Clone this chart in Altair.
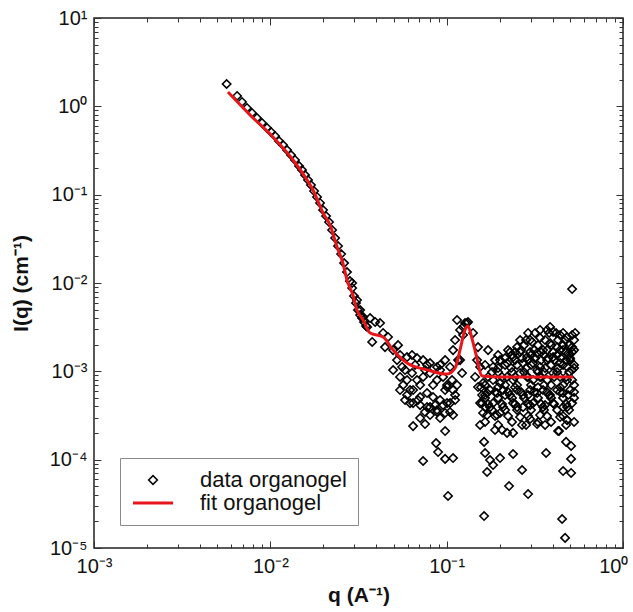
import altair as alt
import pandas as pd

# ---- fit curve ----
fit_q = [0.00575, 0.00767, 0.01035, 0.01346, 0.01614, 0.01746, 0.0199, 0.0218, 0.0239, 0.0258,
         0.0272, 0.0294, 0.0310, 0.0336, 0.0368, 0.0436, 0.0497, 0.0596, 0.0774, 0.1005,
         0.1117, 0.119, 0.127, 0.132, 0.139, 0.147, 0.159, 0.201, 0.521]
fit_I = [1.45, 0.80, 0.45, 0.247, 0.147, 0.113, 0.062, 0.0454, 0.0255, 0.0168,
         0.0108, 0.00731, 0.00494, 0.00381, 0.00272, 0.00245, 0.00174, 0.00124, 0.00104, 0.00093,
         0.00109, 0.00174, 0.00294, 0.00326, 0.00238, 0.00153, 0.000885, 0.000863, 0.000863]

data_q = [
    0.00565, 0.00648, 0.00691, 0.00737, 0.00787, 0.0084, 0.00897, 0.00958, 0.01009, 0.01063,
    0.0112, 0.0118, 0.01244, 0.0131, 0.0138, 0.01455, 0.01513, 0.01574, 0.01636, 0.0170,
    0.0177, 0.0184, 0.01914, 0.0199, 0.0207, 0.02153, 0.0224, 0.0233, 0.0242, 0.0252,
    0.0262, 0.0272, 0.0283, 0.0291, 0.0298, 0.0306, 0.0314, 0.0323, 0.0331, 0.034, 0.0349,
    # mid region
    0.0291, 0.0310, 0.0323, 0.0336, 0.0368, 0.0393, 0.0419, 0.0354, 0.0378, 0.0436,
    0.0465, 0.0447, 0.0497, 0.0523, 0.0559, 0.0596, 0.0679, 0.0735, 0.0805, 0.0882,
    0.098, 0.1045, 0.0497, 0.0544, 0.0596, 0.0636, 0.0679, 0.0735, 0.0805, 0.0882,
    0.0954, 0.1005, 0.1073, 0.1087, 0.0544, 0.0596, 0.0645, 0.0707, 0.0774, 0.0837,
    0.0918, 0.0805, 0.0882, 0.1005, 0.1045, 0.0754, 0.062, 0.1145, 0.1191, 0.1116,
    0.1087, 0.116, 0.1239, 0.1305, 0.0645, 0.0754, 0.098, 0.0871, 0.0894, 0.0735,
    0.098, 0.1087, 0.1018, 0.0581, 0.0645, 0.0774, 0.0805, 0.0882, 0.098, 0.1087,
    0.0954, 0.1045,
    0.0544, 0.0636, 0.0662, 0.0774, 0.0918, 0.0566, 0.0707, 0.0837, 0.1005, 0.1145,
    0.0688, 0.1116, 0.0918, 0.0707,
    0.053, 0.0581, 0.0754, 0.0918, 0.062, 0.098, 0.0707, 0.086, 0.1116,
    # peak and after
    0.1271, 0.1322, 0.1239, 0.1411, 0.1506, 0.1487, 0.1547, 0.1449, 0.1506, 0.1609,
    0.1588, 0.1695, 0.1547, 0.1651, 0.1191, 0.1223,
    # high-q cloud
    0.1833, 0.2008, 0.22, 0.238, 0.2608, 0.2858, 0.305, 0.3386, 0.371, 0.4013,
    0.4397, 0.4818, 0.5145, 0.5145, 0.5012, 0.4573, 0.4229, 0.3859, 0.352, 0.3257,
    0.309, 0.3386, 0.371, 0.4013, 0.4397, 0.4818, 0.5145, 0.1833, 0.2008, 0.22,
    0.238, 0.2608, 0.2858, 0.309, 0.3386, 0.371, 0.4013, 0.4397, 0.4818, 0.5145,
    0.1762, 0.1931, 0.2088, 0.2288, 0.2507, 0.2712, 0.2972, 0.3257, 0.352, 0.3859,
    0.4229, 0.4573, 0.5012, 0.1833, 0.2088, 0.238, 0.2712, 0.309, 0.352, 0.4013,
    0.4573, 0.5145, 0.2008, 0.2608, 0.3386, 0.4397, 0.2288, 0.2507, 0.2712, 0.3257,
    0.3386, 0.3859, 0.2972, 0.1588, 0.1609, 0.1762, 0.1931, 0.2507, 0.2972, 0.3615,
    0.4818, 0.1695, 0.1881, 0.22, 0.238, 0.2677, 0.4284, 0.4818, 0.3257, 0.2972,
    0.2061,
    0.2746, 0.3296, 0.391, 0.4573, 0.4947,
    0.1957, 0.2349, 0.301, 0.3566, 0.4229, 0.4947,
    0.1651, 0.2144, 0.2507, 0.301, 0.391, 0.4573, 0.528,
    0.1808, 0.1957, 0.2349, 0.2746, 0.3296, 0.3566, 0.4229, 0.4947,
    0.1651, 0.2144, 0.2507, 0.301, 0.3566, 0.391, 0.4573, 0.528,
    0.1651, 0.1957, 0.2349, 0.2746, 0.3296, 0.391, 0.4573, 0.528,
    0.1808, 0.2144, 0.2507, 0.301, 0.3566, 0.4229, 0.4947,
    0.1651, 0.2349, 0.3296, 0.391, 0.528,
    0.1717, 0.2229, 0.2642, 0.3133, 0.371, 0.4397, 0.528,
    0.1881, 0.2442, 0.2895, 0.343, 0.4067, 0.4756,
    0.1717, 0.2061, 0.2442, 0.2895, 0.343, 0.4067, 0.4756,
    0.1881, 0.2229, 0.2642, 0.3133, 0.371, 0.4397, 0.528,
    0.1717, 0.2061, 0.2442, 0.2895, 0.343, 0.4067, 0.4756,
    0.1881, 0.2229, 0.2895, 0.371, 0.4573,
    0.2895, 0.3173, 0.381, 0.4174, 0.4573, 0.535,
    0.2608, 0.2821, 0.3615, 0.4284, 0.4694, 0.528,
    0.2442, 0.2972, 0.343, 0.4013, 0.4756, 0.5145,
    0.2144, 0.2677, 0.3173, 0.3758, 0.4455, 0.5012,
    0.1957, 0.2318, 0.2821, 0.3615, 0.4284, 0.528,
    0.1567, 0.1957, 0.2442, 0.3296, 0.4397,
    0.1651, 0.2144, 0.2895, 0.381, 0.488,
    0.1547, 0.1957, 0.2821, 0.3615, 0.4756,
    # sparse low points
    0.163, 0.1651, 0.1762, 0.1833, 0.1695, 0.2008, 0.238, 0.2677, 0.2258, 0.2895,
    0.3662, 0.163, 0.4514, 0.4694, 0.4573, 0.5078, 0.5078, 0.5078, 0.4756, 0.4818,
    0.434, 0.5145,
]
data_I = [
    1.79, 1.31, 1.12, 0.958, 0.841, 0.738, 0.648, 0.569, 0.513, 0.462,
    0.405, 0.365, 0.320, 0.281, 0.247, 0.211, 0.190, 0.167, 0.1465, 0.1286,
    0.110, 0.0942, 0.0805, 0.067, 0.0573, 0.049, 0.0398, 0.0323, 0.0262, 0.0213,
    0.0168, 0.0133, 0.0105, 0.00877, 0.00712, 0.00594, 0.00494, 0.00434, 0.00401, 0.00362, 0.00326,
    # mid region
    0.00999, 0.00642, 0.00494, 0.00412, 0.00401, 0.00362, 0.00352, 0.00318, 0.00215, 0.00272,
    0.00245, 0.00188, 0.00174, 0.00134, 0.00112, 0.00145, 0.00141, 0.00134, 0.00124, 0.00112,
    0.00134, 0.00112, 0.001035, 0.000863, 0.000797, 0.000957, 0.000797, 0.000863, 0.000957, 0.000797,
    0.000863, 0.000664, 0.000797, 0.000614, 0.000614, 0.000539, 0.000614, 0.000512, 0.000568, 0.000512,
    0.000473, 0.000394, 0.000365, 0.000437, 0.000346, 0.000346, 0.000437, 0.00381, 0.00294, 0.00226,
    0.00174, 0.00134, 0.00318, 0.00352, 0.00024, 0.000253, 0.000211, 0.000154, 0.000122, 0.0000966,
    0.000102, 0.0001044, 0.0000388, 0.000473, 0.000437, 0.000394, 0.00032, 0.000346, 0.000338, 0.00032,
    0.000415, 0.000437,
    0.00153, 0.00153, 0.00118, 0.00118, 0.00118, 0.0007, 0.0007, 0.0007, 0.0007, 0.0007,
    0.000473, 0.000473, 0.000296, 0.000296,
    0.00198, 0.001035, 0.001035, 0.001035, 0.000614, 0.000614, 0.000415, 0.000415, 0.000539,
    # peak and after
    0.00352, 0.00362, 0.00258, 0.00272, 0.00188, 0.00134, 0.00112, 0.000863, 0.000664, 0.000737,
    0.000539, 0.000568, 0.000437, 0.000394, 0.00134, 0.000957,
    # high-q cloud
    0.00112, 0.00134, 0.00124, 0.00145, 0.00165, 0.00145, 0.00215, 0.00239, 0.00294, 0.00279,
    0.00258, 0.00245, 0.00258, 0.00188, 0.00134, 0.00174, 0.00188, 0.00209, 0.00174, 0.00161,
    0.00124, 0.00112, 0.00134, 0.00145, 0.00124, 0.00112, 0.001035, 0.000797, 0.000737, 0.000863,
    0.000797, 0.000957, 0.000863, 0.000797, 0.000863, 0.000797, 0.000957, 0.000863, 0.000797, 0.000797,
    0.000614, 0.000568, 0.000614, 0.000539, 0.000614, 0.000539, 0.000614, 0.000568, 0.000614, 0.000539,
    0.000614, 0.000568, 0.000614, 0.000437, 0.000394, 0.000437, 0.000394, 0.000437, 0.000394, 0.000437,
    0.000394, 0.000437, 0.000338, 0.000304, 0.00032, 0.000304, 0.00165, 0.00188, 0.00124, 0.001035,
    0.00294, 0.00318, 0.00226, 0.000437, 0.000338, 0.000394, 0.00032, 0.000394, 0.000415, 0.000415,
    0.000394, 0.00032, 0.000217, 0.000201, 0.000201, 0.000247, 0.000211, 0.000281, 0.000253, 0.000289,
    0.000217,
    0.00198, 0.00198, 0.00198, 0.00198, 0.00198,
    0.00153, 0.00153, 0.00153, 0.00153, 0.00153, 0.00153,
    0.00118, 0.00118, 0.00118, 0.00118, 0.00118, 0.00118, 0.00118,
    0.00098, 0.00098, 0.00098, 0.00098, 0.00098, 0.00098, 0.00098, 0.00098,
    0.0007, 0.0007, 0.0007, 0.0007, 0.0007, 0.0007, 0.0007, 0.0007,
    0.0005, 0.0005, 0.0005, 0.0005, 0.0005, 0.0005, 0.0005, 0.0005,
    0.000365, 0.000365, 0.000365, 0.000365, 0.000365, 0.000365, 0.000365,
    0.000267, 0.000267, 0.000267, 0.000267, 0.000267,
    0.00174, 0.00174, 0.00174, 0.00174, 0.00174, 0.00174, 0.00174,
    0.00134, 0.00134, 0.00134, 0.00134, 0.00134, 0.00134,
    0.000863, 0.000863, 0.000863, 0.000863, 0.000863, 0.000863, 0.000863,
    0.000583, 0.000583, 0.000583, 0.000583, 0.000583, 0.000583, 0.000583,
    0.000426, 0.000426, 0.000426, 0.000426, 0.000426, 0.000426, 0.000426,
    0.000312, 0.000312, 0.000312, 0.000312, 0.000312,
    0.00272, 0.00272, 0.00272, 0.00272, 0.00272, 0.00272,
    0.00226, 0.00226, 0.00226, 0.00226, 0.00226, 0.00226,
    0.00165, 0.00165, 0.00165, 0.00165, 0.00165, 0.00165,
    0.00141, 0.00141, 0.00141, 0.00141, 0.00141, 0.00141,
    0.00109, 0.00109, 0.00109, 0.00109, 0.00109, 0.00109,
    0.00066, 0.00066, 0.00066, 0.00066, 0.00066,
    0.000539, 0.000539, 0.000539, 0.000539, 0.000539,
    0.000247, 0.000247, 0.000247, 0.000247, 0.000247,
    # sparse low points
    0.000159, 0.000119, 0.0000991, 0.000087, 0.0000725, 0.0001044, 0.0001159, 0.0000764, 0.0000503, 0.0000408,
    0.000119, 0.000023, 0.0000213, 0.000013, 0.0000744, 0.0000707, 0.000102, 0.000143, 0.000159, 0.000281,
    0.000211, 0.00855,
]

series_names = ["data organogel", "fit organogel"]
series_colors = ["#000000", "#e8161b"]

x_tick_values = [m * 10.0 ** d for d in range(-3, 0) for m in range(1, 10)] + [1.0]
y_tick_values = [m * 10.0 ** d for d in range(-5, 1) for m in range(1, 10)] + [10.0]

df_data = pd.DataFrame({"q": data_q, "I": data_I, "series": series_names[0]})
df_fit = pd.DataFrame({"q": fit_q, "I": fit_I, "series": series_names[1]})

E = "round(log(datum.value)/LN10)"
MAJ = f"(abs(log(datum.value)/LN10 - {E}) < 0.001)"
LABEL = (f"{MAJ} ? '10' + ({E} < 0 ? '\u207b' : '') + "
         f"substring('\u2070\u00b9\u00b2\u00b3\u2074\u2075\u2076\u2077\u2078\u2079', abs({E}), abs({E}) + 1) : ''")

FONT = "Liberation Sans"
W, H = 529, 530
TICK = {"condition": {"test": MAJ, "value": 7}, "value": 4}

x_scale = alt.Scale(type="log", domain=[0.001, 1], nice=False)
y_scale = alt.Scale(type="log", domain=[1e-5, 10], nice=False)
stroke_scale = alt.Scale(domain=series_names, range=series_colors)

base_axis = dict(grid=False, domain=False, labelOverlap=False, labelFlush=False, labelBound=False,
                 tickColor="#333333", tickWidth=1)
label_axis = dict(base_axis, ticks=False, labelFont=FONT, labelFontSize=20, labelColor="#111111",
                  titleFont=FONT, titleFontSize=21, titleFontWeight="bold", titleColor="#111111")
tick_axis = dict(base_axis, labels=False, title=None, tickSize=TICK)

x_bottom = alt.Axis(orient="bottom", values=x_tick_values, labelExpr=LABEL, labelPadding=8,
                    labelAlign={"condition": {"test": "datum.value >= 0.99", "value": "right"}, "value": "center"},
                    labelOffset={"condition": {"test": "datum.value >= 0.99", "value": 5}, "value": 0},
                    title="q (A\u207b\u00b9)", titlePadding=8, **label_axis)
y_left = alt.Axis(orient="left", values=y_tick_values, labelExpr=LABEL, labelPadding=7,
                  title="I(q) (cm\u207b\u00b9)", titlePadding=18, **label_axis)
# inward ticks: axes oriented to the opposite side and shifted across the plot
x_ticks_bottom = alt.Axis(orient="top", offset=-H, values=x_tick_values, **tick_axis)
y_ticks_left = alt.Axis(orient="right", offset=-W, values=y_tick_values, **tick_axis)
x_ticks_top = alt.Axis(orient="bottom", offset=-H, values=x_tick_values, **tick_axis)
y_ticks_right = alt.Axis(orient="left", offset=-W, values=y_tick_values, **tick_axis)

FIT = series_names[1]
legend = alt.Legend(
    title=None, orient="none", legendX=26, legendY=440, direction="vertical",
    padding=11, strokeColor="#8a8a8a", fillColor="white", cornerRadius=0,
    labelFont=FONT, labelFontSize=22, labelColor="#111111", labelOffset=36, symbolOffset=11,
    symbolSize=1600, rowPadding=1, symbolFillColor="transparent",
    symbolType=alt.ExprRef(expr=f"datum.value == '{FIT}' ? 'M-1,0L1,0' : 'M-0.22,0L0,-0.22L0.22,0L0,0.22Z'"),
    symbolStrokeWidth=alt.ExprRef(expr=f"datum.value == '{FIT}' ? 3 : 1.5"),
)

points = alt.Chart(df_data).mark_point(shape="diamond", filled=False, size=70, strokeWidth=1.6, opacity=1).encode(
    x=alt.X("q:Q", scale=x_scale, axis=x_bottom),
    y=alt.Y("I:Q", scale=y_scale, axis=y_left),
    stroke=alt.Stroke("series:N", scale=stroke_scale, legend=legend),
)

fit = alt.Chart(df_fit).mark_line(strokeWidth=3, interpolate="monotone").encode(
    x=alt.X("q:Q", scale=x_scale, axis=x_ticks_bottom),
    y=alt.Y("I:Q", scale=y_scale, axis=y_ticks_left),
    stroke=alt.Stroke("series:N", scale=stroke_scale, legend=legend),
)

# carrier for the top/right inward tick axes (invisible copy of the fit)
frame = alt.Chart(df_fit).mark_line(strokeOpacity=0).encode(
    x=alt.X("q:Q", scale=x_scale, axis=x_ticks_top),
    y=alt.Y("I:Q", scale=y_scale, axis=y_ticks_right),
)

chart = alt.layer(points, fit, frame).resolve_axis(x="independent", y="independent").properties(
    width=W, height=H,
    autosize=alt.AutoSizeParams(type="none"),
    padding={"left": 94, "top": 18, "right": 10, "bottom": 64},
    background="white",
).configure_view(stroke="#222222", strokeWidth=1.5)

chart.save("out.html", embed_options={"renderer": "svg", "actions": False})
